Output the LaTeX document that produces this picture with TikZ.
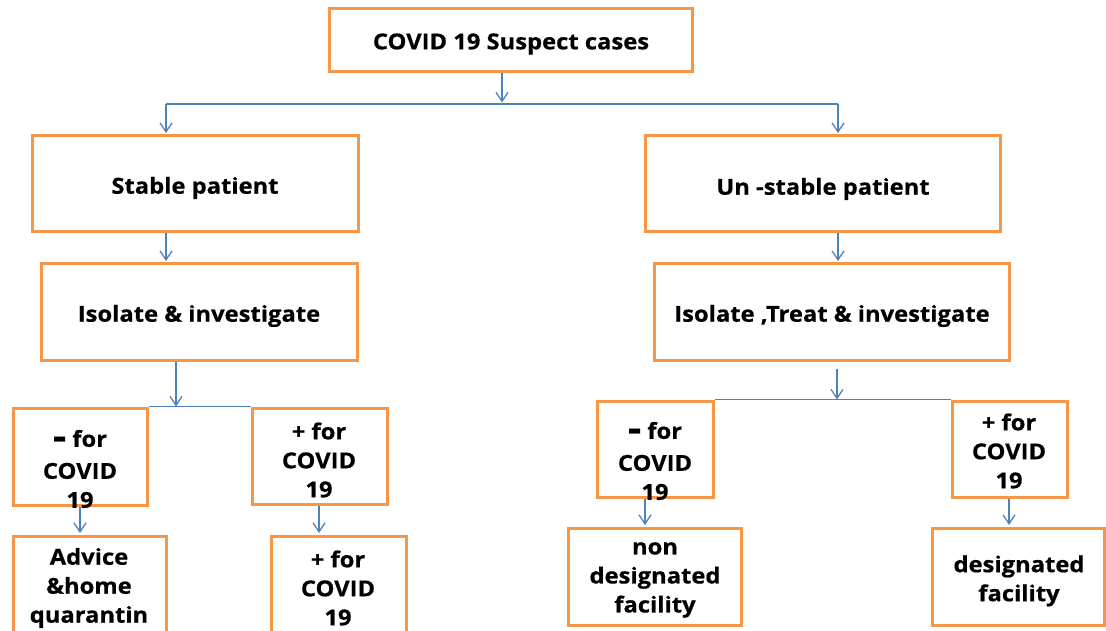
\documentclass[tikz,border=0pt]{standalone}
\usepackage{fontspec}
\setmainfont[FakeStretch=1.08,BoldFeatures={FakeBold=0.5}]{Open Sans}
\usetikzlibrary{arrows.meta,fit}
\definecolor{boxorange}{RGB}{247,150,70}
\definecolor{linkblue}{RGB}{79,129,189}
% heavy short bar used as the "negative" sign
\newcommand{\negsign}{{\fontsize{38}{29}\selectfont\raisebox{-2.5pt}{-}}}
\begin{document}
\begin{tikzpicture}[x=1pt,y=-1pt,
  box/.style={draw=boxorange,line width=3pt,fill=white,inner sep=0pt},
  txt/.style={font=\bfseries\fontsize{22}{29}\selectfont,align=center,inner sep=0pt},
  link/.style={draw=linkblue,line width=1.3pt},
  arr/.style={link,shorten >=1.5pt,-{Straight Barb[length=9pt,width=12pt,line width=1.3pt]}}]
\useasboundingbox (0,0) rectangle (1106,631);
\clip (0,0) rectangle (1106,631);

% boxes
\node[box,fit={(329,9) (692,72)}] (top) {};
\node[box,fit={(32,136) (358,232)}] (stable) {};
\node[box,fit={(645,136) (1000,232)}] (unstable) {};
\node[box,fit={(41,264) (357,360)}] (isoL) {};
\node[box,fit={(654,264) (1009,360)}] (isoR) {};
\node[box,fit={(13,408) (147,505)}] (negL) {};
\node[box,fit={(252,408) (387,504)}] (posL) {};
\node[box,fit={(13,536) (166,645)}] (advice) {};
\node[box,fit={(271,536) (406,645)}] (posLtwo) {};
\node[box,fit={(597,401) (713,497)}] (negR) {};
\node[box,fit={(952,401) (1067,497)}] (posR) {};
\node[box,fit={(568,528) (741,625)}] (nondes) {};
\node[box,fit={(932,528) (1104,625)}] (des) {};

% texts
\node[txt] (t-top) at (511,44) {COVID 19 Suspect cases};
\node[txt] (t-stable) at (195,188) {Stable patient};
\node[txt] (t-unstable) at (823,189) {Un -stable patient};
\node[txt] (t-isoL) at (199,316) {Isolate \& investigate};
\node[txt] (t-isoR) at (832,316) {Isolate ,Treat \& investigate};
\node[txt] (t-negL) at (80,469) {\negsign\ for\\[3pt]COVID\\19};
\node[txt] (t-posL) at (319,460) {+ for\\COVID\\19};
\node[txt] (t-advice) at (89,588) {Advice\\\&home\\quarantin};
\node[txt] (t-posLtwo) at (338,588) {+ for\\COVID\\19};
\node[txt] (t-negR) at (655,461) {\negsign\ for\\[3pt]COVID\\19};
\node[txt] (t-posR) at (1009,451) {+ for\\COVID\\19};
\node[txt] (t-nondes) at (655,580) {non\\designated\\facility};
\node[txt] (t-des) at (1019,581) {designated\\facility};

% branching points
\coordinate (split) at (502,104);
\coordinate (splitL) at (166,104);
\coordinate (splitR) at (838,104);
\coordinate (dropL) at (176,408);
\coordinate (fromR) at (837,369);
\coordinate (dropR) at (837,401);
\coordinate (colA) at (80,0);
\coordinate (colB) at (319,0);
\coordinate (colC) at (645,0);
\coordinate (colD) at (1009,0);

% connectors
\draw[arr] (split |- top.south) -- (split);
\draw[link] (splitL) -- (splitR);
\draw[arr] (splitL) -- (splitL |- stable.north);
\draw[arr] (splitR) -- (splitR |- unstable.north);
\draw[arr] (splitL |- stable.south) -- (splitL |- isoL.north);
\draw[arr] (splitR |- unstable.south) -- (splitR |- isoR.north);

\draw[arr] (dropL |- isoL.south) -- (dropL);
\draw[link] (negL.north east) -- (posL.north west);
\draw[arr] (colA |- negL.south) -- (colA |- advice.north);
\draw[arr] (colB |- posL.south) -- (colB |- posLtwo.north);

\draw[arr] (fromR) -- (dropR);
\draw[link] (negR.north east) -- (posR.north west);
\draw[arr] (colC |- negR.south) -- (colC |- nondes.north);
\draw[arr] (colD |- posR.south) -- (colD |- des.north);
\end{tikzpicture}
\end{document}
